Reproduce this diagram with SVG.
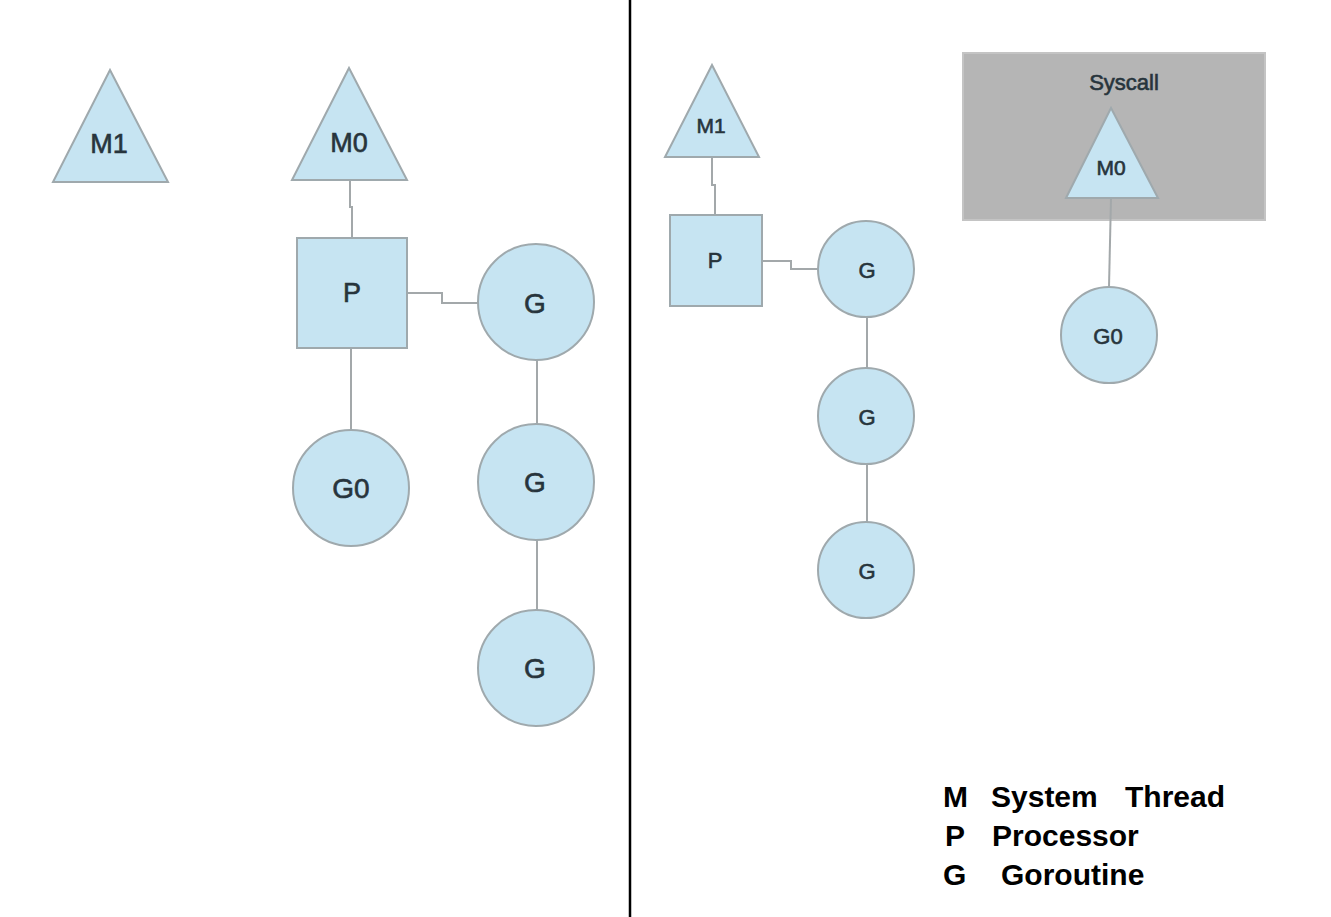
<svg xmlns="http://www.w3.org/2000/svg" width="1331" height="917" viewBox="0 0 1331 917">
<style>
.n{fill:#c6e4f2;stroke:#9fa9ad;stroke-width:2}
.c{fill:none;stroke:#a3a8aa;stroke-width:2}
.t{font-family:"Liberation Sans",Arial,sans-serif;fill:#27343c;stroke:#27343c;stroke-width:0.6;text-anchor:middle}
.lg{font-family:"Liberation Sans",Arial,sans-serif;font-weight:bold;font-size:30px;fill:#000}
</style>
<rect x="0" y="0" width="1331" height="917" fill="#fff"/>
<line x1="630" y1="0" x2="630" y2="917" stroke="#000" stroke-width="2.5"/>
<g id="syscall">
<rect x="963" y="53" width="302" height="167" fill="#b5b5b5" stroke="#c4c4c4" stroke-width="2"/>
<text class="t" x="1124" y="90" font-size="22">Syscall</text>
</g>
<g id="connectors">
<path class="c" d="M350 180 V207 H352 V238"/>
<path class="c" d="M407 293 H442 V303 H478"/>
<path class="c" d="M351 347 V430"/>
<path class="c" d="M537 360 V424"/>
<path class="c" d="M537 540 V610"/>
<path class="c" d="M712 157 V185 H715 V215"/>
<path class="c" d="M762 261 H791 V269 H818"/>
<path class="c" d="M867 317 V368"/>
<path class="c" d="M867 464 V522"/>
<path class="c" d="M1111 198 L1109 287"/>
</g>
<g id="left-M1">
<polygon class="n" points="110,70 168,182 53,182"/>
<text class="t" x="109" y="153" font-size="27">M1</text>
</g>
<g id="left-M0">
<polygon class="n" points="349,68 407,180 292,180"/>
<text class="t" x="349" y="152" font-size="27">M0</text>
</g>
<g id="left-P">
<rect class="n" x="297" y="238" width="110" height="110"/>
<text class="t" x="352" y="302" font-size="27">P</text>
</g>
<g id="left-G1">
<circle class="n" cx="536" cy="302" r="58"/>
<text class="t" x="535" y="313" font-size="28">G</text>
</g>
<g id="left-G0">
<circle class="n" cx="351" cy="488" r="58"/>
<text class="t" x="351" y="498" font-size="28">G0</text>
</g>
<g id="left-G2">
<circle class="n" cx="536" cy="482" r="58"/>
<text class="t" x="535" y="492" font-size="28">G</text>
</g>
<g id="left-G3">
<circle class="n" cx="536" cy="668" r="58"/>
<text class="t" x="535" y="678" font-size="28">G</text>
</g>
<g id="right-M1">
<polygon class="n" points="712,65 759,157 665,157"/>
<text class="t" x="711" y="133" font-size="21">M1</text>
</g>
<g id="right-P">
<rect class="n" x="670" y="215" width="92" height="91"/>
<text class="t" x="715" y="268" font-size="22">P</text>
</g>
<g id="right-G1">
<circle class="n" cx="866" cy="269" r="48"/>
<text class="t" x="867" y="278" font-size="22">G</text>
</g>
<g id="right-G2">
<circle class="n" cx="866" cy="416" r="48"/>
<text class="t" x="867" y="425" font-size="22">G</text>
</g>
<g id="right-G3">
<circle class="n" cx="866" cy="570" r="48"/>
<text class="t" x="867" y="579" font-size="22">G</text>
</g>
<g id="right-M0">
<polygon class="n" points="1111,108 1158,198 1066,198"/>
<text class="t" x="1111" y="175" font-size="21">M0</text>
</g>
<g id="right-G0">
<circle class="n" cx="1109" cy="335" r="48"/>
<text class="t" x="1108" y="344" font-size="22">G0</text>
</g>
<g id="legend">
<text class="lg" x="943" y="807">M</text>
<text class="lg" x="991" y="807">System</text>
<text class="lg" x="1125" y="807">Thread</text>
<text class="lg" x="945" y="846">P</text>
<text class="lg" x="992" y="846">Processor</text>
<text class="lg" x="943" y="885">G</text>
<text class="lg" x="1001" y="885">Goroutine</text>
</g>
</svg>
